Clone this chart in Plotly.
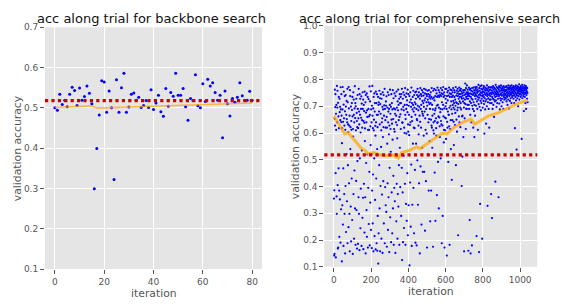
import plotly.graph_objects as go

# ---------------- data ----------------
BASELINE = 0.518

BACKBONE_ACC = [
    0.500, 0.494, 0.534, 0.508, 0.519, 0.503, 0.534, 0.551, 0.543, 0.506,
    0.549, 0.519, 0.528, 0.554, 0.536, 0.510, 0.299, 0.399, 0.482, 0.567,
    0.564, 0.489, 0.542, 0.500, 0.322, 0.570, 0.489, 0.550, 0.586, 0.489,
    0.502, 0.534, 0.537, 0.519, 0.526, 0.501, 0.506, 0.518, 0.501, 0.545,
    0.496, 0.512, 0.531, 0.490, 0.479, 0.548, 0.504, 0.538, 0.529, 0.586,
    0.531, 0.531, 0.548, 0.503, 0.469, 0.523, 0.518, 0.582, 0.505, 0.500,
    0.560, 0.516, 0.571, 0.554, 0.562, 0.538, 0.519, 0.531, 0.426, 0.542,
    0.510, 0.480, 0.523, 0.514, 0.526, 0.562, 0.530, 0.519, 0.519, 0.541,
    0.519,
]
BACKBONE_TREND_X = [0, 5, 10, 15, 16, 17, 20, 25, 30, 35, 40, 45, 50, 55, 60, 65, 70, 75, 80]
BACKBONE_TREND_Y = [0.501, 0.502, 0.503, 0.505, 0.502, 0.500, 0.500, 0.501, 0.502, 0.503,
                    0.503, 0.504, 0.505, 0.506, 0.507, 0.508, 0.509, 0.511, 0.512]

# comprehensive search accuracies, in thousandths (iteration 0 .. 1040)
COMPREHENSIVE_ACC_MILLI = [
    355, 142, 386, 148, 653, 762, 628, 697, 745, 450, 135, 672, 612, 705, 363, 298, 776, 640, 695, 758,
    405, 168, 713, 172, 662, 468, 735, 618, 385, 212, 728, 678, 352, 698, 648, 190, 771, 688, 315, 641,
    745, 665, 120, 562, 618, 330, 688, 772, 258, 642, 468, 178, 706, 755, 655, 372, 628, 298, 738, 681,
    150, 612, 402, 742, 699, 230, 668, 521, 720, 652, 345, 640, 765, 188, 715, 480, 632, 603, 248, 772,
    692, 412, 628, 298, 665, 158, 760, 738, 540, 622, 325, 699, 195, 645, 612, 430, 712, 686, 275, 735,
    662, 148, 615, 587, 752, 372, 725, 668, 205, 640, 460, 692, 775, 318, 656, 712, 182, 700, 610, 421,
    728, 312, 675, 645, 168, 622, 495, 742, 690, 186, 618, 655, 360, 765, 298, 680, 632, 162, 745, 505,
    668, 728, 244, 602, 392, 690, 657, 737, 178, 710, 535, 648, 620, 283, 752, 690, 358, 725, 166, 645,
    705, 410, 682, 638, 228, 755, 570, 617, 360, 715, 150, 742, 676, 488, 640, 312, 748, 212, 685, 660,
    520, 735, 172, 612, 395, 690, 727, 260, 662, 612, 455, 774, 180, 668, 718, 340, 625, 555, 756, 238,
    688, 520, 640, 170, 702, 385, 776, 665, 262, 618, 445, 692, 158, 735, 610, 650, 505, 748, 215, 680,
    712, 350, 627, 590, 165, 755, 640, 430, 712, 188, 668, 745, 540, 160, 622, 290, 668, 735, 112, 705,
    225, 715, 680, 480, 758, 318, 632, 730, 158, 708, 402, 672, 745, 548, 610, 205, 728, 640, 370, 655,
    698, 152, 752, 585, 688, 420, 622, 742, 262, 665, 703, 515, 765, 188, 690, 398, 648, 620, 330, 718,
    702, 305, 737, 660, 175, 620, 560, 695, 412, 752, 238, 640, 680, 360, 742, 595, 690, 155, 628, 470,
    705, 762, 285, 672, 615, 530, 698, 192, 745, 650, 378, 712, 635, 225, 688, 575, 760, 318, 652, 440,
    730, 182, 692, 615, 395, 748, 605, 345, 672, 688, 152, 738, 520, 640, 665, 270, 755, 410, 695, 630,
    580, 205, 718, 372, 685, 762, 325, 705, 648, 480, 728, 182, 660, 745, 545, 712, 398, 670, 735, 615,
    712, 290, 745, 688, 470, 765, 125, 640, 638, 378, 728, 192, 698, 752, 515, 685, 245, 620, 742, 600,
    705, 410, 768, 668, 182, 652, 735, 335, 690, 598, 748, 272, 705, 722, 450, 678, 762, 218, 632, 605,
    745, 330, 702, 668, 592, 738, 105, 715, 630, 415, 752, 640, 250, 725, 698, 482, 770, 660, 178, 712,
    645, 332, 688, 735, 560, 705, 758, 395, 680, 620, 225, 742, 695, 618, 715, 462, 752, 668, 190, 708,
    728, 560, 755, 690, 180, 652, 742, 648, 498, 765, 702, 332, 735, 685, 628, 595, 752, 412, 698, 740,
    665, 150, 728, 642, 768, 475, 690, 745, 620, 705, 258, 738, 760, 680, 545, 720, 672, 455, 752, 665,
    712, 740, 590, 698, 765, 455, 722, 680, 748, 235, 655, 730, 612, 762, 420, 690, 745, 715, 598, 738,
    172, 702, 758, 668, 725, 520, 745, 640, 715, 385, 760, 652, 735, 708, 570, 742, 690, 270, 728, 712,
    752, 650, 385, 735, 628, 768, 620, 705, 545, 665, 728, 688, 175, 758, 610, 640, 732, 598, 765, 672,
    722, 452, 645, 685, 738, 272, 692, 760, 655, 618, 590, 748, 702, 368, 735, 638, 770, 640, 705, 492,
    740, 662, 760, 318, 695, 735, 658, 752, 625, 585, 742, 678, 690, 505, 768, 645, 738, 632, 748, 188,
    715, 760, 688, 628, 290, 745, 705, 772, 662, 735, 565, 612, 752, 692, 172, 740, 658, 610, 765, 700,
    728, 655, 578, 712, 765, 690, 142, 738, 642, 752, 620, 722, 680, 758, 492, 740, 668, 668, 770, 625,
    695, 182, 748, 735, 615, 762, 702, 648, 540, 745, 718, 688, 760, 425, 735, 672, 648, 752, 705, 740,
    768, 720, 695, 642, 555, 712, 760, 735, 688, 752, 630, 725, 675, 702, 772, 480, 715, 740, 650, 758,
    712, 605, 748, 685, 765, 695, 738, 218, 708, 755, 728, 662, 745, 770, 640, 718, 735, 760, 695, 622,
    745, 712, 765, 688, 735, 755, 402, 728, 662, 748, 512, 665, 740, 718, 760, 585, 730, 752, 695, 158,
    712, 742, 655, 760, 725, 785, 708, 745, 615, 768, 735, 690, 752, 690, 778, 728, 745, 705, 762, 738,
    752, 728, 160, 745, 705, 770, 690, 738, 762, 275, 718, 748, 668, 765, 150, 735, 712, 758, 640, 728,
    745, 180, 768, 702, 755, 725, 690, 742, 620, 770, 715, 748, 682, 760, 585, 705, 752, 738, 665, 772,
    745, 728, 765, 702, 758, 740, 215, 772, 718, 750, 690, 762, 735, 612, 755, 725, 780, 708, 742, 155,
    768, 732, 698, 758, 745, 335, 775, 720, 752, 685, 740, 765, 712, 778, 728, 750, 205, 762, 738, 695,
    755, 742, 768, 720, 735, 775, 708, 752, 598, 762, 730, 745, 688, 770, 718, 758, 742, 635, 765, 725,
    750, 700, 778, 738, 760, 328, 745, 715, 768, 730, 755, 690, 772, 742, 620, 760, 725, 748, 712, 770,
    738, 762, 725, 750, 372, 772, 745, 712, 758, 282, 735, 768, 690, 752, 728, 775, 705, 748, 762, 725,
    660, 770, 742, 755, 718, 765, 735, 418, 750, 780, 722, 745, 760, 698, 772, 738, 755, 712, 768, 745,
    752, 728, 768, 745, 360, 762, 738, 775, 710, 755, 742, 688, 770, 730, 758, 745, 722, 778, 748, 765,
    700, 740, 760, 728, 772, 752, 715, 768, 742, 758, 690, 775, 735, 762, 748, 725, 770, 742, 755, 732,
    760, 745, 772, 728, 758, 740, 775, 718, 762, 750, 735, 770, 705, 755, 742, 768, 725, 778, 748, 762,
    692, 770, 738, 755, 765, 720, 745, 775, 752, 730, 768, 742, 760, 712, 778, 748, 765, 735, 755, 770,
    752, 770, 740, 762, 728, 775, 748, 758, 712, 768, 742, 755, 618, 772, 735, 762, 750, 778, 722, 765,
    745, 538, 770, 740, 758, 730, 775, 752, 765, 700, 748, 772, 738, 760, 755, 782, 725, 768, 745, 762,
    770, 748, 762, 735, 775, 755, 768, 742, 578, 760, 752, 780, 730, 765, 748, 772, 758, 738, 770, 752,
    682, 765, 745, 778, 760, 735, 770, 752, 712, 765, 748, 775, 690, 760, 742, 770, 755, 728, 768, 750,
    715,
]
COMPREHENSIVE_TREND_X = [0, 4, 31, 58, 76, 103, 130, 148, 166, 184, 211, 247, 283, 319, 346, 364,
                         409, 445, 463, 499, 544, 580, 607, 643, 697, 737, 755, 782, 827, 881,
                         935, 989, 1040]
COMPREHENSIVE_TREND_Y = [0.655, 0.659, 0.627, 0.597, 0.602, 0.579, 0.554, 0.542, 0.536, 0.522,
                         0.527, 0.518, 0.515, 0.518, 0.506, 0.527, 0.536, 0.548, 0.542, 0.560,
                         0.584, 0.599, 0.597, 0.620, 0.642, 0.651, 0.633, 0.645, 0.663, 0.675,
                         0.693, 0.711, 0.723]

LEFT_X_TICKS = [0, 20, 40, 60, 80]
RIGHT_X_TICKS = [0, 200, 400, 600, 800, 1000]

TITLE_LEFT = "acc along trial for backbone search"
TITLE_RIGHT = "acc along trial for comprehensive search"
X_LABEL = "iteration"
Y_LABEL = "validation accuracy"

# ---------------- figure ----------------
FONT = "DejaVu Sans"
GREY = "#555555"
BLUE = "#0000ff"
ORANGE = "rgba(255,165,0,0.72)"
RED = "#cc0000"

comp_acc = [v / 1000 for v in COMPREHENSIVE_ACC_MILLI]

fig = go.Figure()
fig.add_trace(go.Scatter(x=list(range(len(BACKBONE_ACC))), y=BACKBONE_ACC, mode="markers",
                         marker=dict(color=BLUE, size=3), xaxis="x", yaxis="y", showlegend=False))
fig.add_trace(go.Scatter(x=BACKBONE_TREND_X, y=BACKBONE_TREND_Y, mode="lines",
                         line=dict(color=ORANGE, width=1.6), xaxis="x", yaxis="y", showlegend=False))
fig.add_trace(go.Scatter(x=list(range(len(comp_acc))), y=comp_acc, mode="markers",
                         marker=dict(color=BLUE, size=2.2), xaxis="x2", yaxis="y2", showlegend=False))
fig.add_trace(go.Scatter(x=COMPREHENSIVE_TREND_X, y=COMPREHENSIVE_TREND_Y, mode="lines",
                         line=dict(color=ORANGE, width=3), xaxis="x2", yaxis="y2", showlegend=False))

for xr, yr in (("x domain", "y"), ("x2 domain", "y2")):
    fig.add_shape(type="line", xref=xr, yref=yr, x0=0, x1=1, y0=BASELINE, y1=BASELINE,
                  line=dict(color=RED, width=3.2, dash="dot"), layer="above")

axis_common = dict(showgrid=True, gridcolor="white", gridwidth=1, zeroline=False, showline=False,
                   ticks="outside", ticklen=4, tickwidth=1, tickcolor=GREY,
                   tickfont=dict(family=FONT, size=9, color=GREY))
label_font = dict(family=FONT, size=10.8, color=GREY)

L_DOM_X, L_DOM_Y = [0.0801, 0.4662], [0.102, 0.9243]
R_DOM_X, R_DOM_Y = [0.5770, 0.9560], [0.1095, 0.9286]

fig.update_layout(
    width=562, height=304,
    margin=dict(l=0, r=0, t=0, b=0),
    paper_bgcolor="white", plot_bgcolor="#E5E5E5",
    font=dict(family=FONT),
    xaxis=dict(domain=L_DOM_X, range=[-4, 84], tickvals=LEFT_X_TICKS, anchor="y", **axis_common),
    yaxis=dict(domain=L_DOM_Y, range=[0.1, 0.7], dtick=0.1, tick0=0.1, tickformat=".1f",
               anchor="x", **axis_common),
    xaxis2=dict(domain=R_DOM_X, range=[-52, 1092], tickvals=RIGHT_X_TICKS, anchor="y2", **axis_common),
    yaxis2=dict(domain=R_DOM_Y, range=[0.1, 1.0], dtick=0.1, tick0=0.1, tickformat=".1f",
                anchor="x2", **axis_common),
    annotations=[
        dict(text=TITLE_LEFT, xref="paper", yref="paper", x=151.5 / 562, y=1 - 14 / 304,
             xanchor="center", yanchor="middle", showarrow=False,
             font=dict(family=FONT, size=13, color="#111111")),
        dict(text=TITLE_RIGHT, xref="paper", yref="paper", x=429.5 / 562, y=1 - 14 / 304,
             xanchor="center", yanchor="middle", showarrow=False,
             font=dict(family=FONT, size=12.8, color="#111111")),
        dict(text=X_LABEL, xref="paper", yref="paper", x=153.5 / 562, y=1 - 298 / 304,
             xanchor="center", yanchor="middle", showarrow=False, font=label_font),
        dict(text=X_LABEL, xref="paper", yref="paper", x=430.8 / 562, y=1 - 296 / 304,
             xanchor="center", yanchor="middle", showarrow=False, font=label_font),
        dict(text=Y_LABEL, xref="paper", yref="paper", x=17 / 562, y=1 - 148 / 304, textangle=-90,
             xanchor="center", yanchor="middle", showarrow=False, font=label_font),
        dict(text=Y_LABEL, xref="paper", yref="paper", x=295 / 562, y=1 - 146 / 304, textangle=-90,
             xanchor="center", yanchor="middle", showarrow=False, font=label_font),
    ],
)

fig.write_html("out.html", config={"displayModeBar": False},
               post_script="document.body.style.margin='0';")
